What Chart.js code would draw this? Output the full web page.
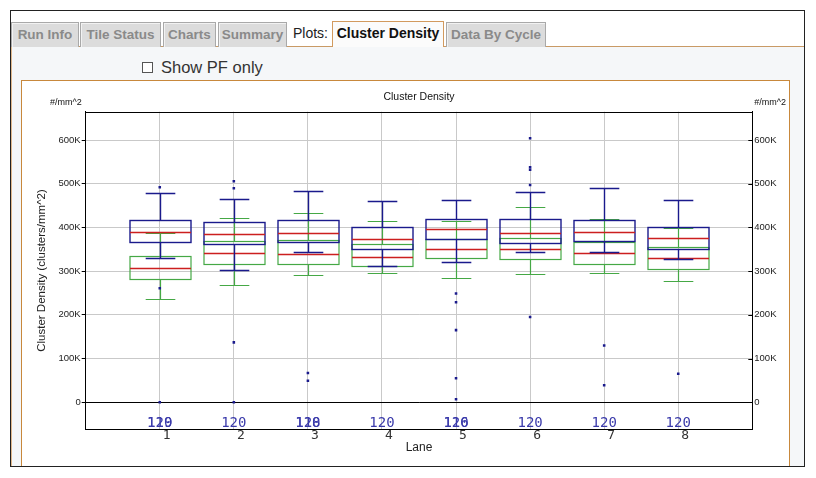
<!DOCTYPE html>
<html>
<head>
<meta charset="utf-8">
<script src="https://cdn.jsdelivr.net/npm/chart.js@4.4.1/dist/chart.umd.min.js"></script>
<style>
  html, body { margin: 0; padding: 0; background: #fff; }
  body { width: 816px; height: 478px; position: relative; overflow: hidden; font-family: "Liberation Sans", Arial, sans-serif; }
  .frame { position: absolute; left: 10px; top: 10px; width: 795px; height: 457px; box-sizing: border-box; border: 1px solid #222; background: #fff; }
  .panel { position: absolute; left: 11px; top: 46px; width: 793px; height: 420px; box-sizing: border-box; border-top: 1px solid #c99a66; border-left: 1px solid #e0b88c; background: #f5f7f9; }
  .tab { position: absolute; top: 22px; height: 25px; box-sizing: border-box; border: 1px solid #a9a9a9; border-bottom: none;
         background: #dcdcdc; box-shadow: inset 1px 1px 0 #f2f2f2; color: #8a8a8a; font-weight: bold; font-size: 13.5px;
         line-height: 23px; text-align: center; white-space: nowrap; }
  .tab.active { top: 21px; height: 26px; background: #fbfbfb; border-color: #d29a5e; color: #111; font-size: 14px; box-shadow: none; z-index: 2; }
  .plots { position: absolute; left: 293px; top: 25px; font-size: 14px; color: #222; }
  .pf { position: absolute; left: 142px; top: 62px; font-size: 16.5px; color: #333; }
  .pf .box { position: absolute; left: 0; top: 0; width: 11px; height: 11px; box-sizing: border-box; border: 1px solid #555; background: #fff; }
  .pf span { position: absolute; left: 19px; top: -4px; white-space: nowrap; }
  .plotframe { position: absolute; left: 21px; top: 80px; width: 769px; height: 386px; box-sizing: border-box; border: 1px solid #c8883c; border-bottom: none; background: #fff; }
  #chart { position: absolute; left: 0; top: 0; }
</style>
</head>
<body>
<div class="frame"></div>
<div class="panel"></div>
<div class="tab" style="left:11px;width:68px">Run Info</div>
<div class="tab" style="left:80px;width:81px">Tile Status</div>
<div class="tab" style="left:163px;width:53px">Charts</div>
<div class="tab" style="left:218px;width:69px">Summary</div>
<div class="plots">Plots:</div>
<div class="tab active" style="left:332px;width:112px">Cluster Density</div>
<div class="tab" style="left:446px;width:100px">Data By Cycle</div>
<div class="pf"><div class="box"></div><span>Show PF only</span></div>
<div class="plotframe"></div>
<canvas id="chart" width="816" height="478"></canvas>

<script>
// lane numbers and tile counts shown along the bottom
const lanes = [1, 2, 3, 4, 5, 6, 7, 8];
const rawCounts = [120, 120, 120, 120, 120, 120, 120, 120];
const pfCounts = [119, 120, 118, 120, 116, 120, 120, 120];

// raw cluster density (blue boxes), clusters/mm^2
const rawLow = [330000, 302000, 344000, 312000, 321000, 343000, 343000, 328000];
const rawQ1 = [367000, 362000, 367000, 350000, 374000, 365000, 368000, 350000];
const rawMedian = [390000, 384000, 387000, 373000, 397000, 387000, 389000, 375000];
const rawQ3 = [416000, 412000, 416000, 400000, 419000, 419000, 416000, 400000];
const rawHigh = [480000, 465000, 483000, 460000, 462000, 481000, 490000, 462000];

// PF cluster density (green boxes)
const pfLow = [236000, 268000, 291000, 296000, 284000, 293000, 296000, 277000];
const pfQ1 = [282000, 316000, 316000, 311000, 330000, 327000, 316000, 304000];
const pfMedian = [307000, 341000, 339000, 332000, 350000, 350000, 341000, 329000];
const pfQ3 = [334000, 368000, 372000, 362000, 373000, 375000, 367000, 355000];
const pfHigh = [388000, 421000, 433000, 414000, 414000, 446000, 419000, 398000];

// outlier tiles per lane
const outliers = [
    [492000, 261000, 0],
    [506000, 490000, 137000, 0],
    [67000, 49000],
    [],
    [249000, 229000, 165000, 55000, 7000],
    [604000, 538000, 532000, 497000, 195000],
    [130000, 39000],
    [65000],
];

const yTicks = [0, 100000, 200000, 300000, 400000, 500000, 600000];

const BLUE = "#1a1a8c";
const GREEN = "#45a845";
const RED = "#cc1f1f";
const GRID = "#c9c9c9";

function kLabel(v) {
    return v === 0 ? "0" : v / 1000 + "K";
}

function fixedTicks(scale) {
    // stepSize with a non-round min/max makes Chart.js spread ticks evenly, so set them directly
    scale.ticks = yTicks.map(v => ({ value: v }));
}

function crisp(v) {
    return Math.round(v) + 0.5;
}

function drawBoxes(ctx, x, y, step, low, q1, med, q3, high, color, width) {
    const half = step * 0.41;
    const cap = step * 0.2;
    lanes.forEach((lane, i) => {
        const cx = crisp(x.getPixelForValue(lane));
        const yl = crisp(y.getPixelForValue(low[i]));
        const y1 = crisp(y.getPixelForValue(q1[i]));
        const ym = crisp(y.getPixelForValue(med[i]));
        const y3 = crisp(y.getPixelForValue(q3[i]));
        const yh = crisp(y.getPixelForValue(high[i]));

        ctx.strokeStyle = color;
        ctx.lineWidth = width;
        ctx.beginPath();
        // whiskers
        ctx.moveTo(cx, y3); ctx.lineTo(cx, yh);
        ctx.moveTo(cx, y1); ctx.lineTo(cx, yl);
        ctx.moveTo(cx - cap, yh); ctx.lineTo(cx + cap, yh);
        ctx.moveTo(cx - cap, yl); ctx.lineTo(cx + cap, yl);
        ctx.stroke();
        ctx.strokeRect(Math.round(cx - half), y3, Math.round(half * 2), y1 - y3);

        ctx.strokeStyle = RED;
        ctx.lineWidth = 1.3;
        ctx.beginPath();
        ctx.moveTo(Math.round(cx - half), ym);
        ctx.lineTo(Math.round(cx + half), ym);
        ctx.stroke();
    });
}

const boxPlugin = {
    id: "boxPlot",
    beforeDatasetsDraw(chart) {
        const { ctx, scales: { x, y } } = chart;
        const step = x.getPixelForValue(1) - x.getPixelForValue(0);
        ctx.save();
        drawBoxes(ctx, x, y, step, pfLow, pfQ1, pfMedian, pfQ3, pfHigh, GREEN, 1.2);
        drawBoxes(ctx, x, y, step, rawLow, rawQ1, rawMedian, rawQ3, rawHigh, BLUE, 1.4);
        ctx.restore();
    },
    afterDraw(chart) {
        const { ctx, chartArea: a, scales: { x, y } } = chart;
        ctx.save();
        // frame top line
        ctx.strokeStyle = "#000";
        ctx.lineWidth = 1;
        ctx.beginPath();
        ctx.moveTo(a.left, crisp(a.top));
        ctx.lineTo(a.right, crisp(a.top));
        // inward ticks on the right axis
        yTicks.forEach(v => {
            const py = crisp(y.getPixelForValue(v));
            ctx.moveTo(a.right - 4, py);
            ctx.lineTo(a.right, py);
        });
        ctx.stroke();

        // tile counts
        ctx.font = "14px 'DejaVu Sans Mono', monospace";
        ctx.fillStyle = "#3b3bab";
        ctx.textAlign = "center";
        ctx.textBaseline = "middle";
        lanes.forEach((lane, i) => {
            const px = x.getPixelForValue(lane);
            ctx.fillText(String(rawCounts[i]), px, a.bottom - 6);
            if (pfCounts[i] !== rawCounts[i]) ctx.fillText(String(pfCounts[i]), px, a.bottom - 6);
        });

        // titles
        ctx.fillStyle = "#111";
        ctx.font = "10.5px 'Liberation Sans', Arial, sans-serif";
        ctx.fillText("Cluster Density", (a.left + a.right) / 2, a.top - 14.5);
        ctx.font = "9px 'Liberation Sans', Arial, sans-serif";
        ctx.textAlign = "right";
        ctx.fillText("#/mm^2", a.left - 4, a.top - 9.5);
        ctx.textAlign = "left";
        ctx.fillText("#/mm^2", a.right + 2, a.top - 9.5);
        ctx.restore();
    },
};

const outlierPoints = [];
outliers.forEach((list, i) => list.forEach(v => outlierPoints.push({ x: lanes[i], y: v })));

const yMin = -62000;
const yMax = 665000;

new Chart(document.getElementById("chart").getContext("2d"), {
    type: "scatter",
    data: {
        datasets: [{
            data: outlierPoints,
            pointStyle: "rect",
            pointRadius: 1.8,
            pointHoverRadius: 1.8,
            backgroundColor: BLUE,
            borderColor: BLUE,
            borderWidth: 0,
        }],
    },
    options: {
        responsive: false,
        animation: false,
        events: [],
        layout: { padding: { left: 30, top: 111.7, right: 20, bottom: 22.7 } },
        plugins: { legend: { display: false }, tooltip: { enabled: false }, title: { display: false } },
        scales: {
            x: {
                type: "linear",
                min: 0,
                max: 9,
                afterFit: s => { s.height = 26; },
                grid: { color: GRID, drawTicks: false },
                border: { color: "#000" },
                ticks: {
                    stepSize: 1,
                    padding: 0,
                    labelOffset: 7,
                    color: "#333",
                    font: { family: "'DejaVu Sans Mono', monospace", size: 13, lineHeight: 1 },
                    callback: v => (lanes.includes(v) ? String(v) : ""),
                },
                title: {
                    display: true,
                    text: "Lane",
                    color: "#222",
                    font: { family: "'Liberation Sans', Arial, sans-serif", size: 12 },
                    padding: { top: 0, bottom: 0.4 },
                },
            },
            y: {
                position: "left",
                min: yMin,
                max: yMax,
                afterBuildTicks: fixedTicks,
                afterFit: s => { s.width = 55.7; },
                grid: {
                    color: c => (c.tick && c.tick.value === 0 ? "#000" : GRID),
                    tickColor: "#000",
                    tickLength: 4,
                },
                border: { color: "#000" },
                ticks: {
                    padding: 1,
                    color: "#222",
                    font: { family: "'Liberation Sans', Arial, sans-serif", size: 9.5 },
                    callback: kLabel,
                },
                title: {
                    display: true,
                    text: "Cluster Density (clusters/mm^2)",
                    color: "#222",
                    font: { family: "'Liberation Sans', Arial, sans-serif", size: 11.5 },
                    padding: { top: 4.8, bottom: 0 },
                },
            },
            y2: {
                position: "right",
                min: yMin,
                max: yMax,
                afterBuildTicks: fixedTicks,
                afterFit: s => { s.width = 43.7; },
                grid: { display: false, drawTicks: false },
                border: { color: "#000" },
                ticks: {
                    padding: 2,
                    color: "#222",
                    font: { family: "'Liberation Sans', Arial, sans-serif", size: 9.5 },
                    callback: kLabel,
                },
            },
        },
    },
    plugins: [boxPlugin],
});
</script>
</body>
</html>
